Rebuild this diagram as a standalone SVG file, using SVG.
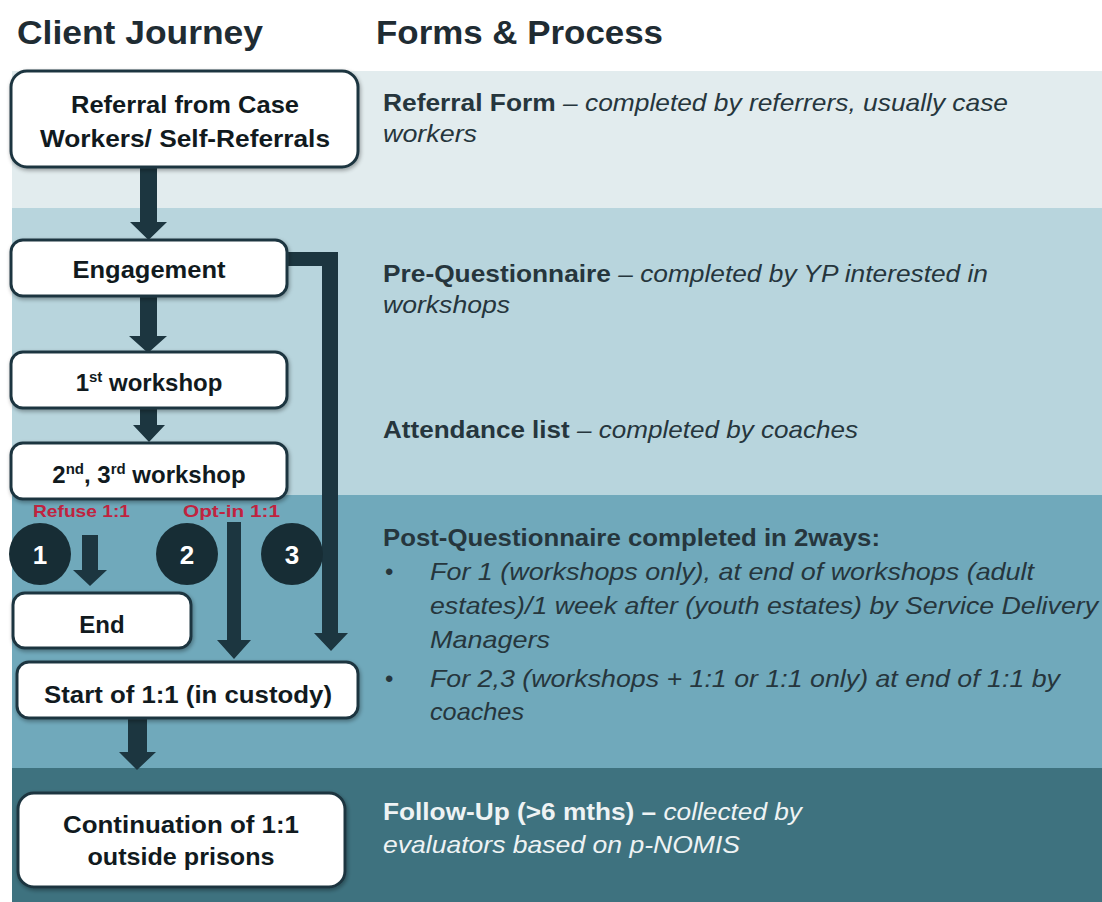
<svg xmlns="http://www.w3.org/2000/svg" width="1102" height="902" viewBox="0 0 1102 902">
  <defs>
    <filter id="shadow" x="-10%" y="-20%" width="120%" height="150%">
      <feGaussianBlur in="SourceAlpha" stdDeviation="2"/>
      <feOffset dx="1" dy="2" result="b"/>
      <feComponentTransfer><feFuncA type="linear" slope="0.35"/></feComponentTransfer>
      <feMerge><feMergeNode/><feMergeNode in="SourceGraphic"/></feMerge>
    </filter>
    <style>
      .title { font-family: "Liberation Sans", Arial, sans-serif; font-weight: bold; font-size: 34px; fill: #1f2c33; }
      .box { fill: #ffffff; stroke: #1e3640; stroke-width: 3; filter: url(#shadow); }
      .lbl { font-family: "Liberation Sans", Arial, sans-serif; font-weight: bold; font-size: 24px; fill: #111a1e; text-anchor: middle; }
      .sup { font-size: 15px; }
      .arrow { fill: #1c3640; }
      .badge { fill: #172d35; }
      .num { font-family: "Liberation Sans", Arial, sans-serif; font-weight: bold; font-size: 26px; fill: #ffffff; text-anchor: middle; }
      .red { font-family: "Liberation Sans", Arial, sans-serif; font-weight: bold; font-size: 17px; fill: #c0233f; }
      .desc { font-family: "Liberation Sans", Arial, sans-serif; font-size: 24px; fill: #26363d; }
      .desc .b { font-weight: bold; }
      .desc .i { font-style: italic; }
      .light { fill: #eef3f4; }
    </style>
  </defs>

  <!-- page background and the four process bands -->
  <rect x="0" y="0" width="1102" height="902" fill="#ffffff"/>
  <rect x="12" y="71" width="1090" height="137" fill="#e2ecee"/>
  <rect x="12" y="208" width="1090" height="287" fill="#b8d5dd"/>
  <rect x="12" y="495" width="1090" height="273" fill="#70a9bb"/>
  <rect x="12" y="768" width="1090" height="134" fill="#3e727f"/>

  <!-- column headings -->
  <text class="title" x="17" y="44" textLength="246" lengthAdjust="spacingAndGlyphs">Client Journey</text>
  <text class="title" x="376" y="44" textLength="287" lengthAdjust="spacingAndGlyphs">Forms &amp; Process</text>

  <!-- connectors -->
  <g id="connectors">
    <polygon class="arrow" points="140,166 157,166 157,222 167,222 148.5,240 130,222 140,222"/>
    <polygon class="arrow" points="140,296 157,296 157,336 167,336 148,353 129,336 140,336"/>
    <polygon class="arrow" points="140,408 157,408 157,425 165,425 149,442 133,425 140,425"/>
    <polygon class="arrow" points="82,535 98,535 98,570 107,570 90,586 73,570 82,570"/>
    <polygon class="arrow" points="227,522 241,522 241,640 251,640 234,659 217,640 227,640"/>
    <polygon class="arrow" points="287,252 338,252 338,633 348,633 331,651 314,633 322,633 322,266 287,266"/>
    <polygon class="arrow" points="128,718 147,718 147,752 156,752 137,770 119,752 128,752"/>
  </g>

  <!-- client journey steps -->
  <g id="node-referral">
    <rect class="box" x="11" y="71" width="347" height="96" rx="16"/>
    <text class="lbl" x="185" y="113" textLength="228" lengthAdjust="spacingAndGlyphs">Referral from Case</text>
    <text class="lbl" x="185" y="147" textLength="290" lengthAdjust="spacingAndGlyphs">Workers/ Self-Referrals</text>
  </g>
  <g id="node-engagement">
    <rect class="box" x="11" y="240" width="276" height="56" rx="12"/>
    <text class="lbl" x="149" y="278" textLength="153" lengthAdjust="spacingAndGlyphs">Engagement</text>
  </g>
  <g id="node-workshop1">
    <rect class="box" x="11" y="352" width="276" height="56" rx="12"/>
    <text class="lbl" x="149" y="391">1<tspan class="sup" dy="-9">st</tspan><tspan dy="9"> workshop</tspan></text>
  </g>
  <g id="node-workshop23">
    <rect class="box" x="11" y="443" width="276" height="56" rx="12"/>
    <text class="lbl" x="149" y="483">2<tspan class="sup" dy="-9">nd</tspan><tspan dy="9">, 3</tspan><tspan class="sup" dy="-9">rd</tspan><tspan dy="9"> workshop</tspan></text>
  </g>

  <g id="branch-labels">
    <text class="red" x="33" y="517" textLength="97" lengthAdjust="spacingAndGlyphs">Refuse 1:1</text>
    <text class="red" x="183" y="517" textLength="97" lengthAdjust="spacingAndGlyphs">Opt-in 1:1</text>
  </g>

  <g id="badge-1">
    <circle class="badge" cx="40" cy="554" r="31"/>
    <text class="num" x="40" y="564">1</text>
  </g>
  <g id="badge-2">
    <circle class="badge" cx="187" cy="554" r="31"/>
    <text class="num" x="187" y="564">2</text>
  </g>
  <g id="badge-3">
    <circle class="badge" cx="292" cy="554" r="31"/>
    <text class="num" x="292" y="564">3</text>
  </g>

  <g id="node-end">
    <rect class="box" x="13" y="593" width="178" height="55" rx="12"/>
    <text class="lbl" x="102" y="633">End</text>
  </g>
  <g id="node-start">
    <rect class="box" x="17" y="662" width="341" height="56" rx="12"/>
    <text class="lbl" x="188" y="703" textLength="288" lengthAdjust="spacingAndGlyphs">Start of 1:1 (in custody)</text>
  </g>
  <g id="node-continuation">
    <rect class="box" x="18" y="793" width="327" height="94" rx="16"/>
    <text class="lbl" x="181" y="833" textLength="236" lengthAdjust="spacingAndGlyphs">Continuation of 1:1</text>
    <text class="lbl" x="181" y="865" textLength="187" lengthAdjust="spacingAndGlyphs">outside prisons</text>
  </g>

  <!-- forms and process notes -->
  <g id="note-referral" class="desc">
    <text x="383" y="111" textLength="625" lengthAdjust="spacingAndGlyphs"><tspan class="b">Referral Form</tspan><tspan class="i"> – completed by referrers, usually case</tspan></text>
    <text x="383" y="142" class="i" textLength="94" lengthAdjust="spacingAndGlyphs">workers</text>
  </g>
  <g id="note-pre" class="desc">
    <text x="383" y="282" textLength="605" lengthAdjust="spacingAndGlyphs"><tspan class="b">Pre-Questionnaire</tspan><tspan class="i"> – completed by YP interested in</tspan></text>
    <text x="383" y="313" class="i" textLength="127" lengthAdjust="spacingAndGlyphs">workshops</text>
  </g>
  <g id="note-attendance" class="desc">
    <text x="383" y="438" textLength="475" lengthAdjust="spacingAndGlyphs"><tspan class="b">Attendance list</tspan><tspan class="i"> – completed by coaches</tspan></text>
  </g>
  <g id="note-post" class="desc">
    <text x="383" y="546" class="b" textLength="497" lengthAdjust="spacingAndGlyphs">Post-Questionnaire completed in 2ways:</text>
    <text x="385" y="580">•</text>
    <text x="430" y="580" class="i" textLength="604" lengthAdjust="spacingAndGlyphs">For 1 (workshops only), at end of workshops (adult</text>
    <text x="430" y="614" class="i" textLength="668" lengthAdjust="spacingAndGlyphs">estates)/1 week after (youth estates) by Service Delivery</text>
    <text x="430" y="648" class="i" textLength="120" lengthAdjust="spacingAndGlyphs">Managers</text>
    <text x="385" y="687">•</text>
    <text x="430" y="687" class="i" textLength="630" lengthAdjust="spacingAndGlyphs">For 2,3 (workshops + 1:1 or 1:1 only) at end of 1:1 by</text>
    <text x="430" y="720" class="i" textLength="94" lengthAdjust="spacingAndGlyphs">coaches</text>
  </g>
  <g id="note-followup" class="desc">
    <text x="383" y="820" class="light" textLength="419" lengthAdjust="spacingAndGlyphs"><tspan class="b">Follow-Up (&gt;6 mths) –</tspan><tspan class="i"> collected by</tspan></text>
    <text x="383" y="853" class="i light" textLength="357" lengthAdjust="spacingAndGlyphs">evaluators based on p-NOMIS</text>
  </g>
</svg>
